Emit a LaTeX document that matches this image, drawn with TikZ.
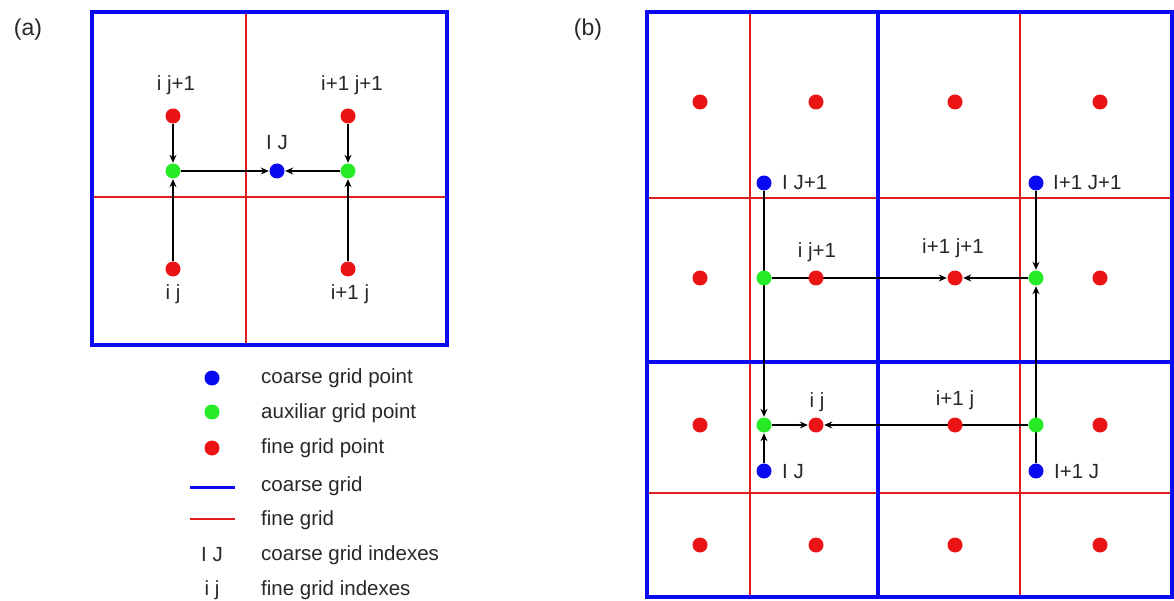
\documentclass[tikz,border=0pt]{standalone}
\usepackage{fontspec}
\setmainfont{Liberation Sans}
\usetikzlibrary{arrows.meta}
\pgfdeclarelayer{bg}
\pgfdeclarelayer{mid}
\pgfsetlayers{bg,mid,main}
\definecolor{cblue}{RGB}{10,10,240}
\definecolor{cred}{RGB}{235,20,20}
\definecolor{cgreen}{RGB}{40,235,40}
\definecolor{cline}{RGB}{220,30,30}
\definecolor{ctext}{RGB}{40,40,40}
\begin{document}
\begin{tikzpicture}[x=1pt,y=-1pt,
 dot/.style={circle,inner sep=0pt,minimum size=15pt,draw=none},
 rdot/.style={dot,fill=cred}, gdot/.style={dot,fill=cgreen}, bdot/.style={dot,fill=cblue},
 coarse/.style={draw=cblue,line width=3.5pt},
 fine/.style={draw=cline,line width=1.4pt},
 conn/.style={draw=black,line width=1.3pt,-{Stealth[length=8pt,width=7pt]},shorten >=0.5pt},
 lbl/.style={font=\fontsize{20.5}{24}\selectfont,text=ctext,inner sep=0pt},
 tag/.style={font=\fontsize{23}{27}\selectfont,text=ctext,inner sep=0pt},
]
\useasboundingbox (0,0) rectangle (1174,601);
\begin{pgfonlayer}{bg}
\fill[white] (0,0) rectangle (1174,601);
\end{pgfonlayer}

% ---------- panel (a) ----------
\node[tag] (taga) at (28,30) {(a)};
\begin{pgfonlayer}{bg}
\draw[fine] (246,12) -- (246,345);
\draw[fine] (92,197) -- (447,197);
\draw[coarse] (92,12) rectangle (447,345);
\end{pgfonlayer}
\node[rdot] (aTL) at (173,116) {};
\node[rdot] (aTR) at (348,116) {};
\node[rdot] (aBL) at (173,269) {};
\node[rdot] (aBR) at (348,269) {};
\node[gdot] (aGL) at (173,171) {};
\node[gdot] (aGR) at (348,171) {};
\node[bdot] (aB) at (277,171) {};
\node[lbl] (laTL) at (176,85) {i j+1};
\node[lbl] (laTR) at (352,85) {i+1 j+1};
\node[lbl] (laB) at (277,143) {I J};
\node[lbl] (laBL) at (173,294) {i j};
\node[lbl] (laBR) at (350,294) {i+1 j};
\begin{pgfonlayer}{mid}
\draw[conn] (aTL) -- (aGL);
\draw[conn] (aBL) -- (aGL);
\draw[conn] (aTR) -- (aGR);
\draw[conn] (aBR) -- (aGR);
\draw[conn] (aGL) -- (aB);
\draw[conn] (aGR) -- (aB);
\end{pgfonlayer}

% ---------- legend ----------
\node[bdot] (lgb) at (212,378) {};
\node[gdot] (lgg) at (212,412) {};
\node[rdot] (lgr) at (212,448) {};
\draw[draw=cblue,line width=3pt] (190,487) -- (235,487);
\draw[draw=cline,line width=1.4pt] (190,519) -- (235,519);
\node[lbl] (lgIJ) at (212,555) {I J};
\node[lbl] (lgij) at (212,590) {i j};
\node[lbl,anchor=west] (lt1) at (261,378) {coarse grid point};
\node[lbl,anchor=west] (lt2) at (261,413) {auxiliar grid point};
\node[lbl,anchor=west] (lt3) at (261,448) {fine grid point};
\node[lbl,anchor=west] (lt4) at (261,486) {coarse grid};
\node[lbl,anchor=west] (lt5) at (261,520) {fine grid};
\node[lbl,anchor=west] (lt6) at (261,555) {coarse grid indexes};
\node[lbl,anchor=west] (lt7) at (261,590) {fine grid indexes};

% ---------- panel (b) ----------
\node[tag] (tagb) at (588,30) {(b)};
\begin{pgfonlayer}{bg}
\draw[fine] (750,12) -- (750,597);
\draw[fine] (1020,12) -- (1020,597);
\draw[fine] (647,198) -- (1172,198);
\draw[fine] (647,493) -- (1172,493);
\draw[coarse] (878,12) -- (878,597);
\draw[coarse] (647,362) -- (1172,362);
\draw[coarse] (647,12) rectangle (1172,597);
\end{pgfonlayer}
\foreach \x [count=\i] in {700,816,955,1100}{
  \foreach \y [count=\j] in {102,278,425,545}{
    \node[rdot] (r\i\j) at (\x,\y) {};
  }
}
\node[bdot] (bA) at (764,183) {};
\node[bdot] (bB) at (1036,183) {};
\node[bdot] (bC) at (764,471) {};
\node[bdot] (bD) at (1036,471) {};
\node[gdot] (g1) at (764,278) {};
\node[gdot] (g2) at (1036,278) {};
\node[gdot] (g3) at (764,425) {};
\node[gdot] (g4) at (1036,425) {};
\node[lbl,anchor=west] (lbA) at (782,183) {I J+1};
\node[lbl,anchor=west] (lbB) at (1053,183) {I+1 J+1};
\node[lbl,anchor=west] (lbC) at (782,472) {I J};
\node[lbl,anchor=west] (lbD) at (1054,472) {I+1 J};
\node[lbl] (lr22) at (817,252) {i j+1};
\node[lbl] (lr32) at (953,248) {i+1 j+1};
\node[lbl] (lr23) at (817,402) {i j};
\node[lbl] (lr33) at (955,400) {i+1 j};
\begin{pgfonlayer}{mid}
\draw[conn] (g1) -- (r32);
\draw[conn] (g2) -- (r32);
\draw[conn] (bA) -- (g3);
\draw[conn] (bC) -- (g3);
\draw[conn] (bB) -- (g2);
\draw[conn] (bD) -- (g2);
\draw[conn] (g3) -- (r23);
\draw[conn] (g4) -- (r23);
\end{pgfonlayer}
\end{tikzpicture}
\end{document}
